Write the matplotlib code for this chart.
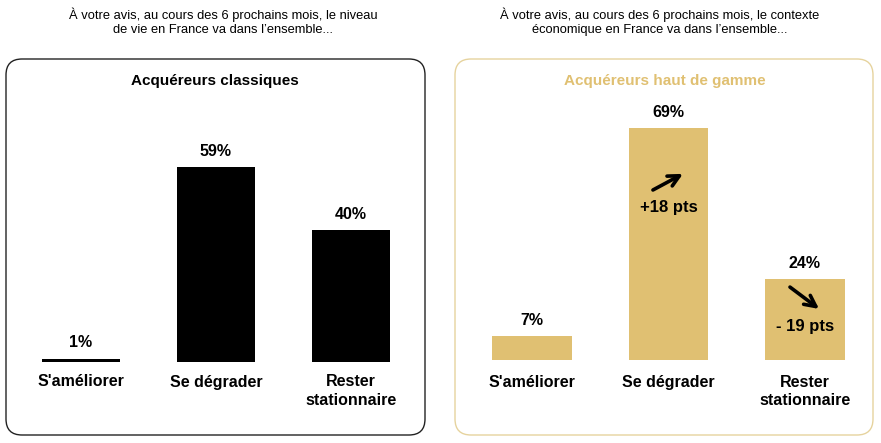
import matplotlib.pyplot as plt
from matplotlib.patches import FancyBboxPatch

plt.rcParams['font.family'] = ['Liberation Sans', 'DejaVu Sans']

categories = ["S'améliorer", "Se dégrader", "Rester\nstationnaire"]
classiques = [1, 59, 40]
haut_gamme = [7, 69, 24]
evolutions = {1: "+18 pts", 2: "- 19 pts"}

question_left = "À votre avis, au cours des 6 prochains mois, le niveau\nde vie en France va dans l’ensemble..."
question_right = "À votre avis, au cours des 6 prochains mois, le contexte\néconomique en France va dans l’ensemble..."

GOLD = "#E0C072"
W, H = 881, 443

fig = plt.figure(figsize=(W / 100, H / 100), dpi=100)

def px_axes(left, right, base, top):
    # pixel box (from top-left) -> figure fraction
    return fig.add_axes([left / W, (H - base) / H, (right - left) / W, (base - top) / H])

# panel frames
fig.patches.append(FancyBboxPatch((0.06, 0.08), 4.19, 3.76, boxstyle="round,pad=0,rounding_size=0.16",
                                  transform=fig.dpi_scale_trans, fill=False, edgecolor="#222222", lw=1.0))
fig.patches.append(FancyBboxPatch((4.55, 0.08), 4.18, 3.76, boxstyle="round,pad=0,rounding_size=0.16",
                                  transform=fig.dpi_scale_trans, fill=False, edgecolor="#E6D39E", lw=1.0))

fig.text(223 / W, 1 - 22 / H, question_left, ha='center', va='center', fontsize=9.3, linespacing=1.2)
fig.text(660 / W, 1 - 22 / H, question_right, ha='center', va='center', fontsize=9.3, linespacing=1.2)
fig.text(215 / W, 1 - 81 / H, "Acquéreurs classiques", ha='center', va='center', fontsize=11, fontweight='bold')
fig.text(665 / W, 1 - 81 / H, "Acquéreurs haut de gamme", ha='center', va='center', fontsize=11,
         fontweight='bold', color=GOLD)

ax1 = px_axes(13.5, 418.5, 362, 32)
ax2 = px_axes(463.75, 873.25, 360, 24)

x = range(len(categories))
ax1.bar(x, classiques, width=0.578, color='black')
ax2.bar(x, haut_gamme, width=0.586, color=GOLD)

for ax, vals in [(ax1, classiques), (ax2, haut_gamme)]:
    ax.set_xlim(-0.5, 2.5)
    ax.set_ylim(0, 100)
    ax.axis('off')
    for i, v in enumerate(vals):
        ax.annotate(f"{v}%", (i, v), xytext=(0, 6), textcoords='offset points',
                    ha='center', va='bottom', fontsize=11.5, fontweight='bold')
    off = -9 if ax is ax1 else -10.5
    for i, c in enumerate(categories):
        ax.annotate(c, (i, 0), xytext=(0, off), textcoords='offset points',
                    ha='center', va='top', fontsize=11.5, fontweight='bold', linespacing=1.3)

# evolution arrows on the premium panel
arrow = dict(arrowstyle='->', lw=2.6, color='black', mutation_scale=20, shrinkA=0, shrinkB=0)
ax2.annotate("", xy=(1.106, 55.4), xytext=(0.886, 50.6), arrowprops=arrow)
ax2.text(1.0, 45.5, evolutions[1], ha='center', va='center', fontsize=12, fontweight='bold')
ax2.annotate("", xy=(2.103, 15.2), xytext=(1.890, 21.7), arrowprops=arrow)
ax2.text(2.0, 10.1, evolutions[2], ha='center', va='center', fontsize=12, fontweight='bold')

fig.savefig("out.png", dpi=100)
